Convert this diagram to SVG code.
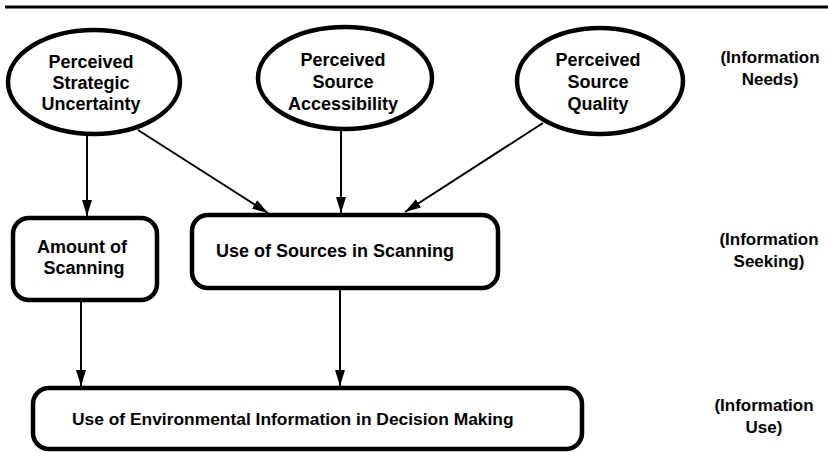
<svg xmlns="http://www.w3.org/2000/svg" width="828" height="452" viewBox="0 0 828 452">
<defs>
<marker id="arr" markerUnits="userSpaceOnUse" markerWidth="18" markerHeight="12" refX="16" refY="5" orient="auto">
<path d="M0,0 L16,5 L0,10 z" fill="#000"/>
</marker>
<style>
.node{fill:#fff;stroke:#000;stroke-width:4.5}
.t{font-family:"Liberation Sans",Arial,sans-serif;font-weight:bold;font-size:18px;fill:#000;text-anchor:middle}
.lbl{font-family:"Liberation Sans",Arial,sans-serif;font-weight:bold;font-size:17px;fill:#000;text-anchor:middle}
.edge{stroke:#000;stroke-width:2;fill:none;marker-end:url(#arr)}
</style>
</defs>
<rect width="828" height="452" fill="#fff"/>
<line x1="5" y1="7" x2="828" y2="7" stroke="#000" stroke-width="3"/>

<g id="connectors">
<line class="edge" x1="87" y1="135" x2="87" y2="216"/>
<line class="edge" x1="138" y1="130" x2="268" y2="213"/>
<line class="edge" x1="341" y1="129" x2="341" y2="213"/>
<line class="edge" x1="543" y1="123" x2="405" y2="212"/>
<line class="edge" x1="81" y1="300" x2="81" y2="386"/>
<line class="edge" x1="340" y1="288" x2="340" y2="386"/>
</g>

<g id="n-uncertainty">
<ellipse class="node" cx="94" cy="82" rx="86" ry="52"/>
<text class="t" x="91" y="68">Perceived</text>
<text class="t" x="91" y="89">Strategic</text>
<text class="t" x="91" y="110">Uncertainty</text>
</g>
<g id="n-accessibility">
<ellipse class="node" cx="345" cy="78" rx="87" ry="51"/>
<text class="t" x="343" y="66">Perceived</text>
<text class="t" x="343" y="88">Source</text>
<text class="t" x="343" y="110">Accessibility</text>
</g>
<g id="n-quality">
<ellipse class="node" cx="600" cy="81" rx="83" ry="53"/>
<text class="t" x="598" y="66">Perceived</text>
<text class="t" x="598" y="88">Source</text>
<text class="t" x="598" y="110">Quality</text>
</g>
<g id="n-amount">
<rect class="node" x="13" y="218" width="144" height="82" rx="16"/>
<text class="t" x="82" y="253">Amount of</text>
<text class="t" x="84" y="274">Scanning</text>
</g>
<g id="n-sources">
<rect class="node" x="192" y="215" width="306" height="73" rx="16"/>
<text class="t" x="335" y="257">Use of Sources in Scanning</text>
</g>
<g id="n-use">
<rect class="node" x="33" y="388" width="549" height="61" rx="16"/>
<text class="t" x="72" y="425" style="text-anchor:start;font-size:17.4px">Use of Environmental Information in Decision Making</text>
</g>

<g id="labels">
<text class="lbl" x="770" y="63">(Information</text>
<text class="lbl" x="770" y="85">Needs)</text>
<text class="lbl" x="769" y="245">(Information</text>
<text class="lbl" x="769" y="267">Seeking)</text>
<text class="lbl" x="764" y="411">(Information</text>
<text class="lbl" x="764" y="433">Use)</text>
</g>
</svg>
